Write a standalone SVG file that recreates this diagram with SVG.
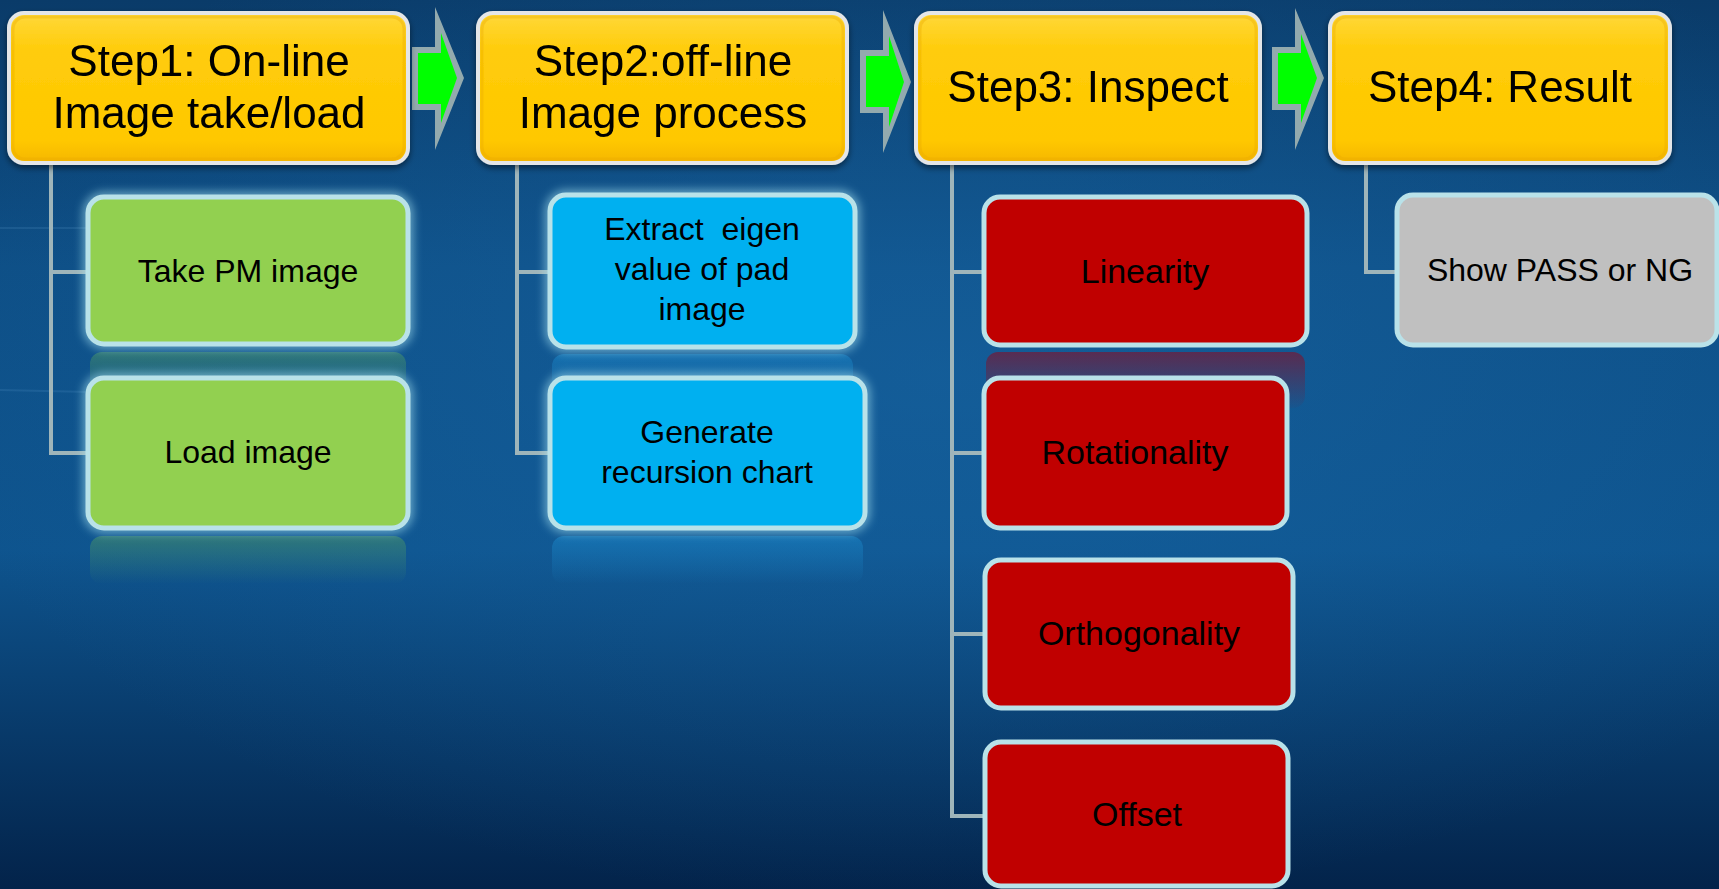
<svg xmlns="http://www.w3.org/2000/svg" width="1719" height="889" viewBox="0 0 1719 889">
<defs>
  <linearGradient id="bg" x1="0" y1="0" x2="0" y2="1">
    <stop offset="0" stop-color="#0a3b69"/>
    <stop offset="0.3" stop-color="#0e4f86"/>
    <stop offset="0.62" stop-color="#0e548e"/>
    <stop offset="1" stop-color="#03234a"/>
  </linearGradient>
  <radialGradient id="bgGlow" cx="0.55" cy="0.42" r="0.6">
    <stop offset="0" stop-color="#1a6bab" stop-opacity="0.45"/>
    <stop offset="1" stop-color="#1a6bab" stop-opacity="0"/>
  </radialGradient>
  <linearGradient id="gold" x1="0" y1="0" x2="0" y2="1">
    <stop offset="0" stop-color="#ffd83a"/>
    <stop offset="0.25" stop-color="#ffcc0a"/>
    <stop offset="0.85" stop-color="#ffc800"/>
    <stop offset="1" stop-color="#f5b600"/>
  </linearGradient>
  <linearGradient id="reflGreen" x1="0" y1="0" x2="0" y2="1">
    <stop offset="0" stop-color="#4f9a63" stop-opacity="0.5"/>
    <stop offset="1" stop-color="#4f9a63" stop-opacity="0"/>
  </linearGradient>
  <linearGradient id="reflBlue" x1="0" y1="0" x2="0" y2="1">
    <stop offset="0" stop-color="#1a86c8" stop-opacity="0.55"/>
    <stop offset="1" stop-color="#1a86c8" stop-opacity="0"/>
  </linearGradient>
  <linearGradient id="reflRed" x1="0" y1="0" x2="0" y2="1">
    <stop offset="0" stop-color="#6a2040" stop-opacity="0.8"/>
    <stop offset="1" stop-color="#6a2040" stop-opacity="0.05"/>
  </linearGradient>
  <filter id="blur" x="-20%" y="-30%" width="140%" height="160%">
    <feGaussianBlur stdDeviation="5"/>
  </filter>
  <filter id="shadow" x="-10%" y="-20%" width="120%" height="150%">
    <feGaussianBlur in="SourceAlpha" stdDeviation="3"/>
    <feOffset dx="0" dy="3" result="b"/>
    <feComponentTransfer><feFuncA type="linear" slope="0.5"/></feComponentTransfer>
    <feMerge><feMergeNode/><feMergeNode in="SourceGraphic"/></feMerge>
  </filter>
</defs>
<style>
  .step{fill:url(#gold);stroke:#e4e6e8;stroke-width:4}
  .stepIn{fill:none;stroke:#e8a800;stroke-width:3;stroke-opacity:0.35}
  .steptxt{font-family:"Liberation Sans",Arial,sans-serif;font-size:44px;fill:#000;text-anchor:middle}
  .child{stroke:#b9e2e9;stroke-width:5}
  .green{fill:#92d050}
  .blue{fill:#00b0f0}
  .red{fill:#c00000}
  .gray{fill:#c0c0c0}
  .glow{fill:none;stroke:#a8e4f2;stroke-width:10;opacity:0.6}
  .ctxt{font-family:"Liberation Sans",Arial,sans-serif;font-size:32px;fill:#000;text-anchor:middle}
  .rtxt{font-family:"Liberation Sans",Arial,sans-serif;font-size:34px;fill:#000;text-anchor:middle}
  .conn{fill:none;stroke:#9fb5ba;stroke-width:4}
  .arrOut{fill:#93aaae}
  .arrIn{fill:#00ff00}
</style>

<rect x="0" y="0" width="1719" height="889" fill="url(#bg)"/>
<rect x="0" y="0" width="1719" height="889" fill="url(#bgGlow)"/>
<g id="background-streaks" opacity="0.12" stroke="#7fc0ec" stroke-width="2">
  <line x1="0" y1="228" x2="90" y2="228"/>
  <line x1="0" y1="390" x2="90" y2="392"/>
</g>

<g id="connectors">
  <polyline class="conn" points="51,163 51,453 88,453"/>
  <line class="conn" x1="51" y1="272" x2="88" y2="272"/>
  <polyline class="conn" points="517,163 517,453 550,453"/>
  <line class="conn" x1="517" y1="272" x2="550" y2="272"/>
  <polyline class="conn" points="952,163 952,816 985,816"/>
  <line class="conn" x1="952" y1="272" x2="984" y2="272"/>
  <line class="conn" x1="952" y1="453" x2="984" y2="453"/>
  <line class="conn" x1="952" y1="634" x2="985" y2="634"/>
  <polyline class="conn" points="1366,163 1366,272 1397,272"/>
</g>

<g id="arrow1">
  <polygon class="arrOut" points="412,47 435,47 435,7 464,78 435,150 435,110 412,110"/>
  <polygon class="arrIn" points="418,53 441,53 441,33 457,78 441,123 441,104 418,104"/>
</g>
<g id="arrow2">
  <polygon class="arrOut" points="860,50 883,50 883,10 911,82 883,153 883,113 860,113"/>
  <polygon class="arrIn" points="866,56 889,56 889,36 904,82 889,127 889,107 866,107"/>
</g>
<g id="arrow3">
  <polygon class="arrOut" points="1272,47 1295,47 1295,8 1324,78 1295,150 1295,110 1272,110"/>
  <polygon class="arrIn" points="1278,53 1301,53 1301,34 1317,78 1301,123 1301,104 1278,104"/>
</g>

<g id="step1" filter="url(#shadow)">
  <rect class="step" x="9" y="13" width="399" height="150" rx="15"/>
  <rect class="stepIn" x="13" y="17" width="391" height="142" rx="12"/>
  <text class="steptxt" x="209" y="76">Step1: On-line</text>
  <text class="steptxt" x="209" y="128">Image take/load</text>
</g>
<g id="step2" filter="url(#shadow)">
  <rect class="step" x="478" y="13" width="369" height="150" rx="15"/>
  <rect class="stepIn" x="482" y="17" width="361" height="142" rx="12"/>
  <text class="steptxt" x="663" y="76">Step2:off-line</text>
  <text class="steptxt" x="663" y="128">Image process</text>
</g>
<g id="step3" filter="url(#shadow)">
  <rect class="step" x="916" y="13" width="344" height="150" rx="15"/>
  <rect class="stepIn" x="920" y="17" width="336" height="142" rx="12"/>
  <text class="steptxt" x="1088" y="102">Step3: Inspect</text>
</g>
<g id="step4" filter="url(#shadow)">
  <rect class="step" x="1330" y="13" width="340" height="150" rx="15"/>
  <rect class="stepIn" x="1334" y="17" width="332" height="142" rx="12"/>
  <text class="steptxt" x="1500" y="102">Step4: Result</text>
</g>

<g id="reflections">
  <rect x="90" y="352" width="316" height="46" rx="12" fill="url(#reflGreen)"/>
  <rect x="90" y="536" width="316" height="48" rx="12" fill="url(#reflGreen)"/>
  <rect x="552" y="354" width="301" height="46" rx="12" fill="url(#reflBlue)"/>
  <rect x="552" y="536" width="311" height="48" rx="12" fill="url(#reflBlue)"/>
  <rect x="986" y="352" width="319" height="56" rx="12" fill="url(#reflRed)"/>
</g>

<g id="take-pm-image">
  <rect class="glow" x="88" y="197" width="320" height="147" rx="16" filter="url(#blur)"/>
  <rect class="child green" x="88" y="197" width="320" height="147" rx="16"/>
  <text class="ctxt" x="248" y="282">Take PM image</text>
</g>
<g id="load-image">
  <rect class="glow" x="88" y="378" width="320" height="150" rx="16" filter="url(#blur)"/>
  <rect class="child green" x="88" y="378" width="320" height="150" rx="16"/>
  <text class="ctxt" x="248" y="463">Load image</text>
</g>
<g id="extract-eigen">
  <rect class="glow" x="550" y="195" width="305" height="152" rx="16" filter="url(#blur)"/>
  <rect class="child blue" x="550" y="195" width="305" height="152" rx="16"/>
  <text class="ctxt" x="702" y="240" xml:space="preserve">Extract  eigen</text>
  <text class="ctxt" x="702" y="280">value of pad</text>
  <text class="ctxt" x="702" y="320">image</text>
</g>
<g id="generate-recursion-chart">
  <rect class="glow" x="550" y="378" width="315" height="150" rx="16" filter="url(#blur)"/>
  <rect class="child blue" x="550" y="378" width="315" height="150" rx="16"/>
  <text class="ctxt" x="707" y="443">Generate</text>
  <text class="ctxt" x="707" y="483">recursion chart</text>
</g>
<g id="linearity">
  <rect class="child red" x="984" y="197" width="323" height="148" rx="16"/>
  <text class="rtxt" x="1145" y="283">Linearity</text>
</g>
<g id="rotationality">
  <rect class="child red" x="984" y="378" width="303" height="150" rx="16"/>
  <text class="rtxt" x="1135" y="464">Rotationality</text>
</g>
<g id="orthogonality">
  <rect class="child red" x="985" y="560" width="308" height="148" rx="16"/>
  <text class="rtxt" x="1139" y="645">Orthogonality</text>
</g>
<g id="offset">
  <rect class="child red" x="985" y="742" width="303" height="144" rx="16"/>
  <text class="rtxt" x="1137" y="826">Offset</text>
</g>
<g id="show-pass-or-ng">
  <rect class="child gray" x="1397" y="195" width="320" height="150" rx="16"/>
  <text class="ctxt" x="1560" y="281">Show PASS or NG</text>
</g>
</svg>
